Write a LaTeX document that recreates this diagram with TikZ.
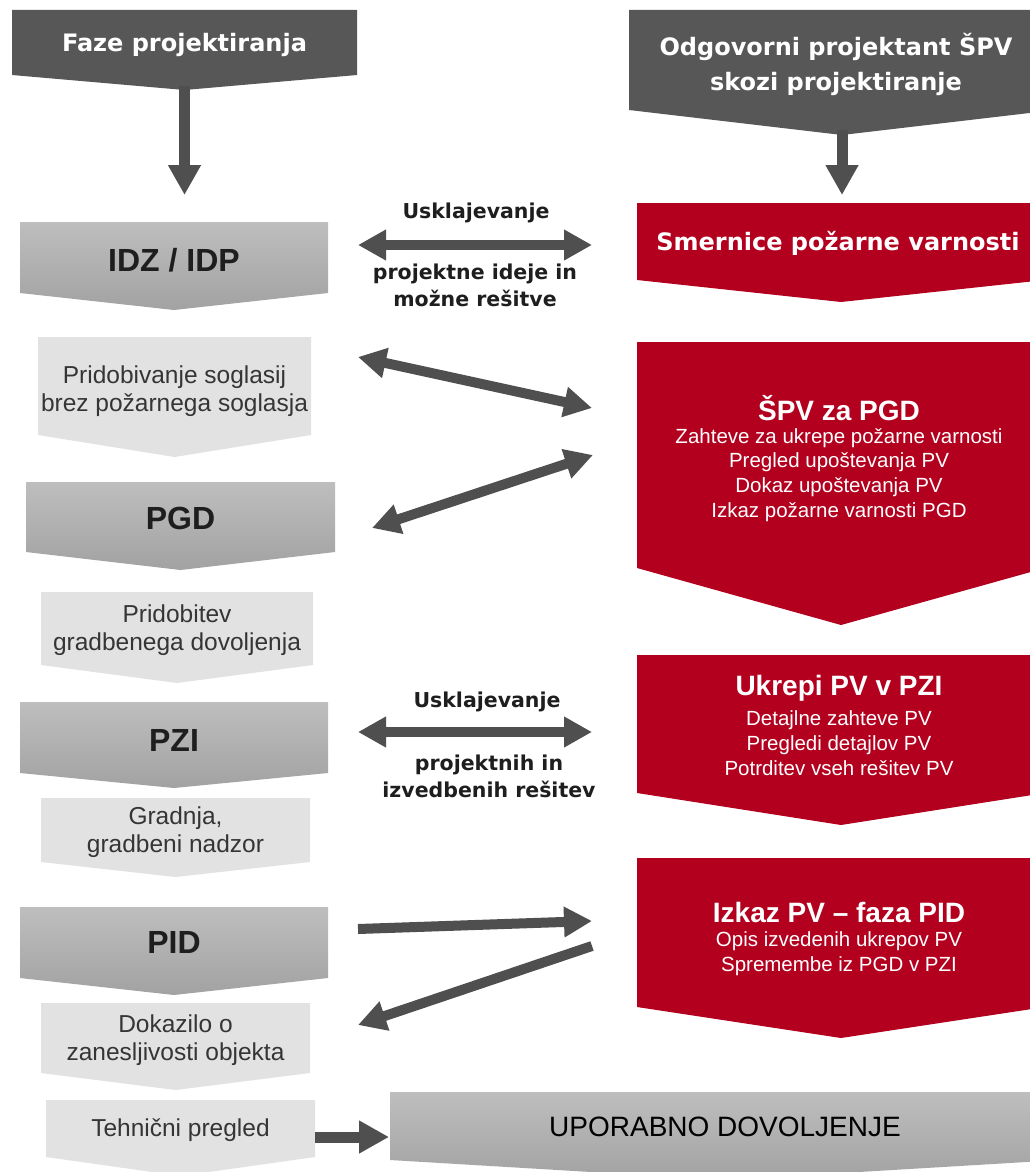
\documentclass[tikz,border=0pt]{standalone}
\usepackage{fontspec}
\setmainfont{Liberation Sans}
\newfontfamily\dvs{DejaVu Sans}
\usetikzlibrary{arrows.meta}
\definecolor{hdr}{HTML}{575757}
\definecolor{redb}{RGB}{178,0,30}
\definecolor{arr}{HTML}{4F4F4F}
\definecolor{lg}{HTML}{E2E2E2}
\definecolor{mgT}{HTML}{BEBEBE}
\definecolor{mgB}{HTML}{A2A2A2}
\definecolor{txt}{HTML}{1E1E1E}
\newcommand\chevbox[7]{%
  \path[#7] (#2,#4) -- (#3,#4) -- (#3,#5) -- ({(#2+#3)/2},#6) -- (#2,#5) -- cycle;
  \coordinate (#1) at ({(#2+#3)/2},{(#4+#5)/2});
}
\tikzset{
  hdrshape/.style={fill=hdr},
  redshape/.style={fill=redb},
  midshape/.style={top color=mgT, bottom color=mgB},
  lightshape/.style={fill=lg},
  hdrtext/.style={text=white, align=center, inner sep=0pt, font=\dvs\bfseries\fontsize{24}{35}\selectfont},
  smertext/.style={text=white, inner sep=0pt, font=\dvs\bfseries\fontsize{24}{30}\selectfont},
  midtext/.style={text=txt, inner sep=0pt, font=\bfseries\fontsize{32}{36}\selectfont},
  lighttext/.style={text=txt!90, align=center, inner sep=0pt, font=\fontsize{24.5}{28}\selectfont},
  redtitle/.style={text=white, inner sep=0pt, font=\bfseries\fontsize{28}{32}\selectfont},
  redsub/.style={text=white, align=center, inner sep=0pt, font=\fontsize{20.5}{24.7}\selectfont},
  lbltext/.style={text=txt, align=center, inner sep=0pt, font=\dvs\bfseries\fontsize{20.5}{27}\selectfont},
  uptext/.style={text=black, inner sep=0pt, font=\fontsize{28}{32}\selectfont},
  bigarrow/.style={draw=arr, line width=11pt, -{Triangle[length=30pt,width=31pt]}},
  onearrow/.style={draw=arr, line width=10pt, -{Triangle[length=28pt,width=29pt]}},
  dblarrow/.style={draw=arr, line width=10pt, {Triangle[length=28pt,width=29pt]}-{Triangle[length=28pt,width=29pt]}}
}
\begin{document}
\begin{tikzpicture}[x=1pt,y=-1pt]
\useasboundingbox (0,0) rectangle (1029,1172);
\fill[white] (0,0) rectangle (1029,1172);

% ---- left column ----
\chevbox{hL}{12}{357}{10}{75}{90}{hdrshape}
\chevbox{idz}{20}{328}{222}{293}{310}{midshape}
\chevbox{pr1}{38}{311}{337}{435}{457}{lightshape}
\chevbox{pgd}{26}{335}{482}{552}{570}{midshape}
\chevbox{pr2}{41}{313}{592}{665}{683}{lightshape}
\chevbox{pzi}{20}{328}{702}{773}{788}{midshape}
\chevbox{gra}{41}{310}{798}{862}{877}{lightshape}
\chevbox{pid}{20}{328}{907}{978}{995}{midshape}
\chevbox{dok}{41}{310}{1003}{1073}{1090}{lightshape}
\chevbox{teh}{46}{315}{1100}{1157}{1176}{lightshape}

% ---- right column ----
\chevbox{hR}{629}{1055}{10}{110}{135}{hdrshape}
\chevbox{smer}{637}{1045}{203}{280}{302}{redshape}
\chevbox{spv}{637}{1045}{342}{568}{625}{redshape}
\chevbox{ukr}{637}{1045}{655}{793}{825}{redshape}
\chevbox{izk}{637}{1045}{858}{1007}{1038}{redshape}
\chevbox{upo}{390}{1060}{1092}{1160}{1180}{midshape}

% ---- texts ----
\node[hdrtext] (thL) at (184.5,45) {Faze projektiranja};
\node[hdrtext] (thR) at (836,64) {Odgovorni projektant ŠPV\\skozi projektiranje};
\node[midtext] (tidz) at (174,260) {IDZ / IDP};
\node[lighttext] (tpr1) at (174.5,391) {Pridobivanje soglasij\\brez požarnega soglasja};
\node[midtext] (tpgd) at (180.5,518) {PGD};
\node[lighttext] (tpr2) at (177,630) {Pridobitev\\gradbenega dovoljenja};
\node[midtext] (tpzi) at (174,740) {PZI};
\node[lighttext] (tgra) at (175.5,832) {Gradnja,\\gradbeni nadzor};
\node[midtext] (tpid) at (174,942) {PID};
\node[lighttext] (tdok) at (175.5,1040) {Dokazilo o\\zanesljivosti objekta};
\node[lighttext] (tteh) at (180.5,1130) {Tehnični pregled};

\node[smertext] (tsmer) at (838,243) {Smernice požarne varnosti};
\node[redtitle] (tspv) at (839,408) {ŠPV za PGD};
\node[redsub] (sspv) at (839,475) {Zahteve za ukrepe požarne varnosti\\Pregled upoštevanja PV\\Dokaz upoštevanja PV\\Izkaz požarne varnosti PGD};
\node[redtitle] (tukr) at (839,688) {Ukrepi PV v PZI};
\node[redsub] (sukr) at (839,743) {Detajlne zahteve PV\\Pregledi detajlov PV\\Potrditev vseh rešitev PV};
\node[redtitle] (tizk) at (839,912) {Izkaz PV -- faza PID};
\node[redsub] (sizk) at (839,954) {Opis izvedenih ukrepov PV\\Spremembe iz PGD v PZI};
\node[uptext] (tupo) at (725,1127) {UPORABNO DOVOLJENJE};

\node[lbltext] (l1a) at (476,213) {Usklajevanje};
\node[lbltext] (l1b) at (475,285) {projektne ideje in\\možne rešitve};
\node[lbltext] (l2a) at (487,702) {Usklajevanje};
\node[lbltext] (l2b) at (489,776) {projektnih in\\izvedbenih rešitev};

% ---- connectors ----
\coordinate (aL1) at (184.5,86);
\coordinate (aL2) at (184.5,195);
\coordinate (aR1) at (842,130);
\coordinate (aR2) at (842,195);
\draw[bigarrow] (aL1) -- (aL2);
\draw[bigarrow] (aR1) -- (aR2);

\coordinate (u1l) at (358,245);
\coordinate (u1r) at (592,245);
\draw[dblarrow] (u1l) -- (u1r);

\coordinate (d1l) at (358,357);
\coordinate (d1r) at (592,408);
\draw[dblarrow] (d1l) -- (d1r);
\coordinate (d2r) at (593,455);
\coordinate (d2l) at (372,528);
\draw[dblarrow] (d2r) -- (d2l);

\coordinate (u2l) at (358,732);
\coordinate (u2r) at (592,732);
\draw[dblarrow] (u2l) -- (u2r);

\coordinate (p1l) at (358,929);
\coordinate (p1r) at (592,921);
\draw[onearrow] (p1l) -- (p1r);
\coordinate (p2r) at (592,946);
\coordinate (p2l) at (358,1025);
\draw[onearrow] (p2r) -- (p2l);

\coordinate (t1) at (315,1137);
\coordinate (t2) at (389,1137);
\draw[bigarrow] (t1) -- (t2);
\end{tikzpicture}
\end{document}
